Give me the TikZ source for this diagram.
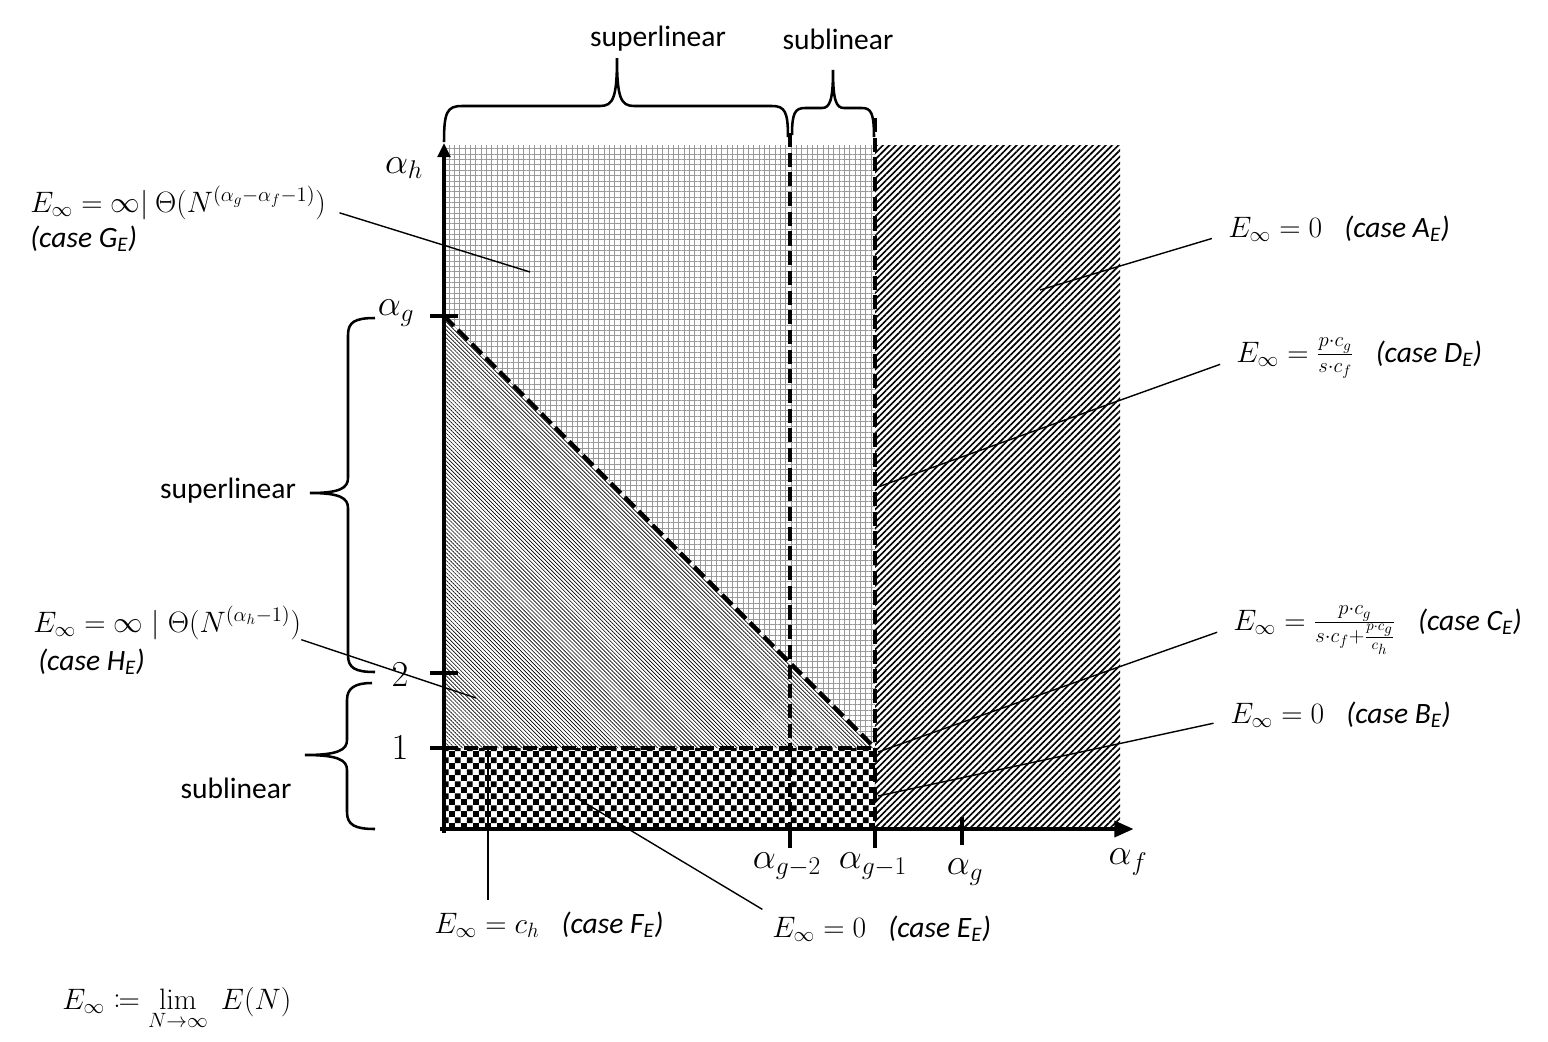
\documentclass[tikz,border=0pt]{standalone}
\usepackage{fix-cm}
\usepackage{amsmath,mathtools}
\usepackage[no-math]{fontspec}
\setmainfont{Carlito}
\usetikzlibrary{patterns,patterns.meta,arrows.meta}

\pgfdeclarepatternformonly{checker}{\pgfqpoint{0pt}{0pt}}{\pgfqpoint{8.4pt}{8.4pt}}{\pgfqpoint{8.4pt}{8.4pt}}{%
  \pgfpathrectangle{\pgfqpoint{0pt}{0pt}}{\pgfqpoint{4.2pt}{4.2pt}}%
  \pgfpathrectangle{\pgfqpoint{4.2pt}{4.2pt}}{\pgfqpoint{4.2pt}{4.2pt}}%
  \pgfusepath{fill}}

\tikzstyle{eq}=[font=\fontsize{21}{25}\selectfont, inner sep=0pt, anchor=base west]
\tikzstyle{word}=[font=\fontsize{21}{25}\selectfont, inner sep=0pt, anchor=base]
\tikzstyle{ax}=[font=\fontsize{26}{30}\selectfont, inner sep=0pt]
\tikzstyle{axis}=[line width=3.5pt]
\tikzstyle{tick}=[line width=3pt]
\tikzstyle{bound}=[line width=3pt, dash pattern=on 10pt off 4pt]
\tikzstyle{lead}=[line width=1pt]
\tikzstyle{brace}=[line width=1.8pt]
\tikzstyle{grid zone}=[pattern={Hatch[distance=3.8pt, line width=0.25pt]}, pattern color=black!40]
\tikzstyle{fine zone}=[pattern={Lines[angle=-45, distance=2pt, line width=0.45pt]}]
\tikzstyle{hatch zone}=[pattern={Lines[angle=45, distance=3.2pt, line width=1.2pt]}]
\tikzstyle{check zone}=[pattern=checker]

\begin{document}
\begin{tikzpicture}[x=0.025cm, y=-0.025cm]
    \useasboundingbox (0,0) rectangle (1548,1041);
    % regions of the cases
    \fill[hatch zone] (875,145) rectangle (1120,829);
    \fill[grid zone] (444,145) -- (875,145) -- (875,748) -- (444,316) -- cycle;
    \fill[fine zone] (444,316) -- (875,748) -- (444,748) -- cycle;
    \fill[check zone] (444,748) rectangle (875,829);
    % borders between the cases
    \draw[bound] (444,316) -- (875,748);
    \draw[bound] (444,748) -- (875,748);
    \draw[bound] (790,133) -- (790,829);
    \draw[bound] (875,118) -- (875,829);
    % axes and ticks
    \draw[axis,-{Triangle[length=14pt,width=11pt]}] (440,829) -- (1134,829);
    \draw[axis,-{Triangle[length=10pt,width=9pt]}] (444,833) -- (444,143);
    \foreach \ty in {316,673,748}
        \draw[tick] (430,\ty) -- (458,\ty);
    \foreach \tx in {790,875}
        \draw[tick] (\tx,829) -- (\tx,848);
    \draw[tick] (962,817) -- (962,845);
    % axis labels
    \node[ax] (lah) at (404,168) {$\alpha_h$};
    \node[ax] (lag) at (396,313) {$\alpha_g$};
    \node[ax] (ltwo) at (400,675) {$2$};
    \node[ax] (lone) at (400,748) {$1$};
    \node[ax] (lgm2) at (787,866) {$\alpha_{g-2}$};
    \node[ax] (lgm1) at (873,866) {$\alpha_{g-1}$};
    \node[ax] (lgx) at (965,872) {$\alpha_g$};
    \node[ax] (laf) at (1128,862) {$\alpha_f$};
    % braces
    \draw[brace] (444,142) .. controls (444,112) and (447,106) .. (462,106) -- (600,106)
        .. controls (613,106) and (617,98) .. (617,58) .. controls (617,98) and (621,106) .. (634,106)
        -- (772,106) .. controls (785,106) and (788,112) .. (788,137);
    \draw[brace] (792,135) .. controls (792,113) and (795,108) .. (805,108) -- (822,108)
        .. controls (830,108) and (833,100) .. (833,70) .. controls (833,100) and (836,108) .. (844,108)
        -- (862,108) .. controls (871,108) and (874,113) .. (874,137);
    \draw[brace] (375,318) .. controls (355,318) and (348,322) .. (348,335) -- (348,478)
        .. controls (348,488) and (340,493) .. (310,493) .. controls (340,493) and (348,498) .. (348,508)
        -- (348,655) .. controls (348,668) and (355,672) .. (375,672);
    \draw[brace] (372,683) .. controls (355,683) and (347,688) .. (347,700) -- (347,740)
        .. controls (347,750) and (338,755) .. (305,755) .. controls (338,755) and (347,760) .. (347,770)
        -- (347,812) .. controls (347,825) and (355,829) .. (375,829);
    \node[word] (topsup) at (658,46) {superlinear};
    \node[word] (topsub) at (838,49) {sublinear};
    \node[word] (leftsup) at (228,498) {superlinear};
    \node[word] (leftsub) at (236,798) {sublinear};
    % values of E
    \node[eq] (caseG) at (30,212) {$E_\infty = \infty|\ \Theta(N^{(\alpha_g-\alpha_f-1)})$};
    \node[eq] (caseGb) at (30,247) {\textit{(case G\textsubscript{E})}};
    \node[eq] (caseH) at (33,632) {$E_\infty = \infty \mid \Theta(N^{(\alpha_h-1)})$};
    \node[eq] (caseHb) at (38,670) {\textit{(case H\textsubscript{E})}};
    \node[eq] (caseA) at (1228,237) {$E_\infty = 0$\hspace{0.75em}\textit{(case A\textsubscript{E})}};
    \node[eq] (caseD) at (1236,362) {$E_\infty = \tfrac{p\cdot c_g}{s\cdot c_f}$\hspace{0.75em}\textit{(case D\textsubscript{E})}};
    \node[eq] (caseC) at (1233,630) {$E_\infty = \tfrac{p\cdot c_g}{s\cdot c_f+\frac{p\cdot c_g}{c_h}}$\hspace{0.75em}\textit{(case C\textsubscript{E})}};
    \node[eq] (caseB) at (1230,723) {$E_\infty = 0$\hspace{0.75em}\textit{(case B\textsubscript{E})}};
    \node[eq] (caseF) at (434,933) {$E_\infty = c_h$\hspace{0.75em}\textit{(case F\textsubscript{E})}};
    \node[eq] (caseE) at (772,937) {$E_\infty = 0$\hspace{0.75em}\textit{(case E\textsubscript{E})}};
    \node[eq] (defE) at (62,1009) {$E_\infty \coloneqq \lim\limits_{N\to\infty}\; E(N)$};
    % leader lines
    \coordinate (ptA) at (1040,290);
    \coordinate (ptD) at (878,487);
    \coordinate (ptC) at (878,752);
    \coordinate (ptB) at (878,796);
    \coordinate (ptE) at (575,797);
    \coordinate (ptF) at (488,748);
    \coordinate (ptG) at (530,272);
    \coordinate (ptH) at (476,698);
    \foreach \cs in {A,D,C,B}
        \draw[lead, shorten <=12pt] (case\cs.mid west) -- (pt\cs);
    \draw[lead, shorten <=10pt] (caseG.mid east) -- (ptG);
    \draw[lead] (caseH.south east) -- (ptH);
    \draw[lead, shorten >=8pt] (ptE) -- (caseE.north west);
    \draw[lead, shorten >=8pt] (ptF) -- (ptF |- caseF.north);
\end{tikzpicture}
\end{document}
